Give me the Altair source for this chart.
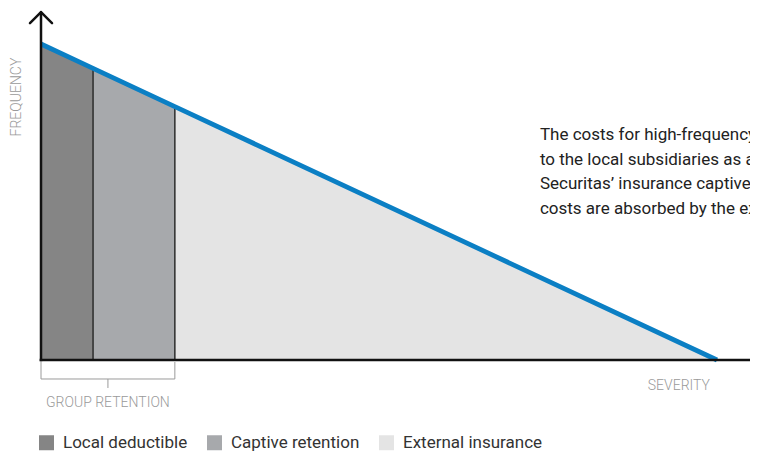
import altair as alt
import pandas as pd

# ---- data ----
segments = ["Local deductible", "Captive retention", "External insurance"]
seg_colors = ["#858585", "#a7a9ac", "#e4e4e4"]
severity_bounds = [0, 7.7, 19.8, 100]
frequency_at_bounds = [100, 92.3, 80.2, 0]
note_lines = [
    "The costs for high-frequency",
    "to the local subsidiaries as a",
    "Securitas\u2019 insurance captives",
    "costs are absorbed by the ex",
]
axis_x_title = "SEVERITY"
axis_y_title = "FREQUENCY"
bracket_label = "GROUP RETENTION"

# ---- tables built from the arrays ----
rows = []
for i, name in enumerate(segments):
    rows.append({"seg": name, "s": severity_bounds[i], "f": frequency_at_bounds[i]})
    rows.append({"seg": name, "s": severity_bounds[i + 1], "f": frequency_at_bounds[i + 1]})
area_df = pd.DataFrame(rows)
line_df = pd.DataFrame({"s": severity_bounds, "f": frequency_at_bounds})
sep_df = pd.DataFrame({"s": severity_bounds[1:3], "f": frequency_at_bounds[1:3]})

xs = alt.Scale(domain=[0, 100], range=[33, 709], nice=False, zero=False)
ys = alt.Scale(domain=[0, 100], range=[352, 36], nice=False, zero=False)

FONT = "Roboto"

area = alt.Chart(area_df).mark_area(opacity=1).encode(
    x=alt.X("s:Q", scale=xs, axis=None),
    y=alt.Y("f:Q", scale=ys, axis=None, stack=None),
    y2=alt.datum(0),
    color=alt.Color(
        "seg:N",
        scale=alt.Scale(domain=segments, range=seg_colors),
        legend=alt.Legend(
            title=None, orient="none", legendX=30, legendY=426,
            direction="horizontal", symbolType="square", symbolSize=225,
            symbolStrokeWidth=0, symbolOpacity=1,
            labelFont=FONT, labelFontSize=17, labelColor="#333333",
            labelOffset=8, columnPadding=18, padding=0,
        ),
    ),
)

seps = alt.Chart(sep_df).mark_rule(color="#2b2b2b", strokeWidth=1.5).encode(
    x=alt.X("s:Q", scale=xs, axis=None),
    y=alt.Y("f:Q", scale=ys, axis=None),
    y2=alt.datum(0),
)

blue = alt.Chart(line_df).mark_line(color="#0b7fc4", strokeWidth=4.8).encode(
    x=alt.X("s:Q", scale=xs, axis=None),
    y=alt.Y("f:Q", scale=ys, axis=None),
)


def seg(x1, y1, x2, y2, color, w, cap="butt"):
    return alt.Chart(alt.Data(values=[{}])).mark_rule(
        color=color, strokeWidth=w, strokeCap=cap
    ).encode(
        x=alt.XDatum(x1, scale=xs, axis=None),
        y=alt.YDatum(y1, scale=ys, axis=None),
        x2=alt.datum(x2),
        y2=alt.datum(y2),
    )


def label(s, f, text, **kw):
    return alt.Chart(alt.Data(values=[{}])).mark_text(text=text, font=FONT, **kw).encode(
        x=alt.XDatum(s, scale=xs, axis=None),
        y=alt.YDatum(f, scale=ys, axis=None),
    )


AX = "#111111"
GR = "#9a9a9a"
axes = [
    seg(0, -0.4, 0, 110.1, AX, 2.5),
    seg(0, 110.1, -1.63, 106.6, AX, 2.5, "round"),
    seg(0, 110.1, 1.63, 106.6, AX, 2.5, "round"),
    seg(-0.2, 0, 106.8, 0, AX, 2.5),
    seg(106.8, 0, 105.2, 3.48, AX, 2.5, "round"),
    seg(106.8, 0, 105.2, -3.48, AX, 2.5, "round"),
]
bracket = [
    seg(0, -0.63, 0, -6.01, GR, 1),
    seg(19.8, -0.63, 19.8, -6.01, GR, 1),
    seg(0, -6.01, 19.8, -6.01, GR, 1),
    seg(9.9, -6.01, 9.9, -8.86, GR, 1),
]
texts = [
    label(9.9, -13.6, bracket_label, fontSize=14, fontWeight=300, color=GR,
          align="center", baseline="middle"),
    label(98.96, -8.2, axis_x_title, fontSize=14, fontWeight=300, color=GR,
          align="right", baseline="middle"),
    label(-3.5, 83.2, axis_y_title, fontSize=14, fontWeight=300, color=GR,
          align="center", baseline="middle", angle=270),
    label(73.8, 69.6, note_lines, fontSize=17, color="#222222",
          align="left", baseline="alphabetic", lineHeight=24.5),
]

chart = alt.layer(area, seps, blue, *axes, *bracket, *texts).properties(
    width=742, height=446, padding=0,
    autosize=alt.AutoSizeParams(type="none"),
    background="white",
).configure_view(stroke=None)

chart.save("out.html", embed_options={"renderer": "svg", "actions": False})
